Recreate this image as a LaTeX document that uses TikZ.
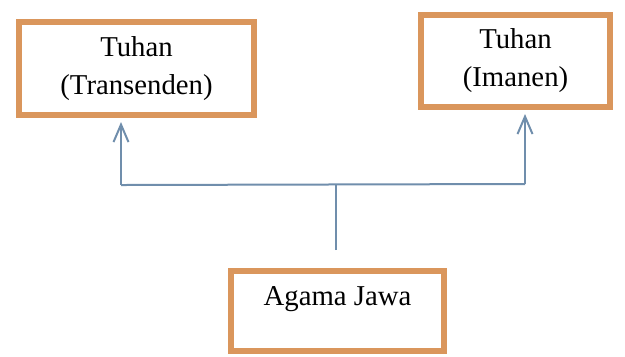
\documentclass[tikz,border=0pt]{standalone}
\usepackage{fontspec}
\setmainfont{Liberation Serif}
\usetikzlibrary{arrows.meta,calc}
\definecolor{boxorange}{RGB}{218,150,92}
\definecolor{linkblue}{RGB}{112,142,172}
\begin{document}
\begin{tikzpicture}[x=0.4pt,y=-0.4pt,
    box/.style={draw=boxorange,line width=2.4pt,fill=white,align=center,
      inner sep=0pt,font=\fontsize{11.5}{15.2}\selectfont},
    link/.style={draw=linkblue,line width=0.8pt},
    tip/.style={-{Straight Barb[length=7pt,width=6pt]},shorten >=1.6pt}]
      \useasboundingbox (0,0) rectangle (625,356);
      \node[box,minimum width=94pt,minimum height=37.2pt] (trans) at (136.5,68.5) {Tuhan\\(Transenden)};
      \node[box,minimum width=75.6pt,minimum height=36.8pt] (iman) at (515.5,61) {Tuhan\\(Imanen)};
      \node[box,minimum width=85.2pt,minimum height=32pt] (agama) at (337.5,311) {Agama Jawa\\[-3pt]~};
      \coordinate (start) at ($(agama.north)+(-2,-18)$);
      \coordinate (jl) at (121,185); \coordinate (jr) at (525,184);
      \draw[link] (start) -- (start |- jl);
      \draw[link] (jl) -- (jr);
      \draw[link,tip] (jl) -- (jl |- trans.south);
      \draw[link,tip] (jr) -- (jr |- iman.south);
\end{tikzpicture}
\end{document}
